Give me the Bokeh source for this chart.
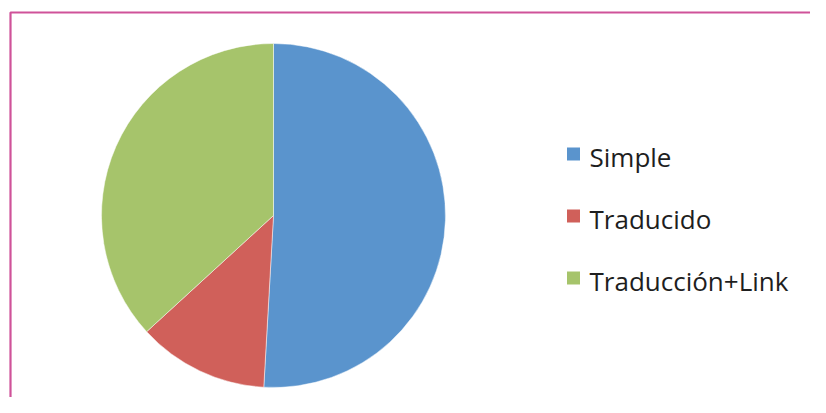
import math
from bokeh.plotting import figure
from bokeh.models import ColumnDataSource, Range1d
from bokeh.core.properties import value
from bokeh.embed import file_html
from bokeh.resources import INLINE

# ---- data ----
categories = ["Simple", "Traducido", "Traducción+Link"]
shares = [50.9, 12.3, 36.8]
colors = ["#5a94cd", "#d0605a", "#a6c46b"]

# ---- layout ----
W, H = 810, 397
p = figure(width=W, height=H, output_backend="svg", toolbar_location=None,
           x_range=Range1d(0, W), y_range=Range1d(0, H), min_border=0)
p.axis.visible = False
p.grid.visible = False
p.outline_line_color = None
p.background_fill_color = "white"
p.border_fill_color = "white"

def fy(y_screen):
    return H - y_screen

def fx(x_screen):
    return x_screen

# frame (pink border, top & left visible)
p.line(x=[fx(10), fx(10), W + 10], y=[-10, fy(12), fy(12)],
       line_color="#cf5299", line_width=2.2)

# pie
total = sum(shares)
starts, ends = [], []
cum = 0.0
for s in shares:
    a0 = cum / total * 2 * math.pi
    cum += s
    a1 = cum / total * 2 * math.pi
    # clockwise from 12 o'clock
    starts.append(math.pi / 2 - a1)
    ends.append(math.pi / 2 - a0)

cx, cy, r = fx(273), fy(215), 172
src = ColumnDataSource(dict(start=starts, end=ends, color=colors,
                            x=[cx] * 3, y=[cy] * 3))
p.wedge(x="x", y="y", radius=r, start_angle="start", end_angle="end",
        fill_color="color", line_color="white", line_width=0.8, line_alpha=0.6,
        source=src)

# legend
sq_y = [fy(153.5) - i * 62 for i in range(len(categories))]
txt_y = [fy(156) - i * 62 for i in range(len(categories))]
leg = ColumnDataSource(dict(
    label=categories, color=colors,
    sx=[fx(573)] * 3, sy=sq_y,
    tx=[fx(589)] * 3, ty=txt_y))
p.rect(x="sx", y="sy", width=13, height=13, fill_color="color",
       line_color=None, source=leg)
p.text(x="tx", y="ty", text="label", source=leg,
       text_font=value("Open Sans"), text_font_size="26px",
       text_color="#1e1e1e", text_baseline="alphabetic", text_align="left")

open("out.html", "w").write(file_html(p, INLINE))
